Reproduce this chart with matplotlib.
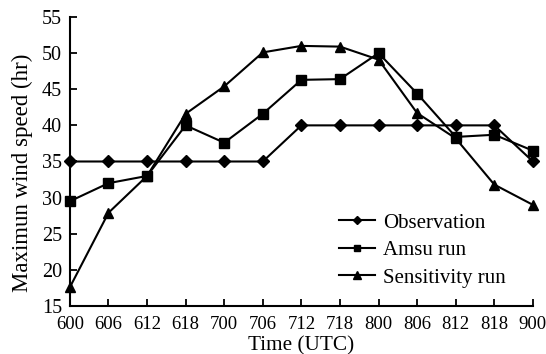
import matplotlib
matplotlib.use("Agg")
import matplotlib.pyplot as plt

times = ["600", "606", "612", "618", "700", "706", "712", "718", "800", "806", "812", "818", "900"]
observation = [35, 35, 35, 35, 35, 35, 40, 40, 40, 40, 40, 40, 35]
amsu_run = [29.5, 32.0, 33.0, 40.0, 37.6, 41.6, 46.3, 46.4, 50.0, 44.4, 38.4, 38.7, 36.5]
sensitivity_run = [17.6, 27.9, 33.0, 41.6, 45.4, 50.1, 51.0, 50.9, 49.1, 41.7, 38.2, 31.8, 29.0]
y_ticks = [15, 20, 25, 30, 35, 40, 45, 50, 55]

plt.rcParams['font.family'] = ['Liberation Serif', 'DejaVu Serif']

fig = plt.figure(figsize=(5.46, 3.54), dpi=100)
ax = fig.add_axes([0.128, 0.1356, 0.848, 0.8164])

x = list(range(len(times)))
lw = 1.5
ax.plot(x, observation, color='black', lw=lw, marker='D', ms=5.8, label='Observation', clip_on=False, zorder=3)
ax.plot(x, amsu_run, color='black', lw=lw, marker='s', ms=6.5, label='Amsu run', clip_on=False, zorder=3)
ax.plot(x, sensitivity_run, color='black', lw=lw, marker='^', ms=7, label='Sensitivity run', clip_on=False, zorder=3)

ax.set_xlim(0, len(times) - 1)
ax.set_ylim(15, 55)
ax.set_xticks(x)
ax.set_xticklabels(times)
ax.set_yticks(y_ticks)
ax.spines['top'].set_visible(False)
ax.spines['right'].set_visible(False)
for s in ['left', 'bottom']:
    ax.spines[s].set_linewidth(1.5)
ax.tick_params(direction='in', length=5, width=1.3)
ax.tick_params(axis='x', labelsize=13.5, pad=7.5)
ax.tick_params(axis='y', labelsize=14.5, pad=5.5)
ax.set_xlabel('Time (UTC)', fontsize=15.3, labelpad=2)
ax.set_ylabel('Maximun wind speed (hr)', fontsize=16.5)
ax.yaxis.set_label_coords(-0.08, 0.46)

leg = ax.legend(loc='upper left', bbox_to_anchor=(339 / 546, 1 - 213 / 354),
                bbox_transform=fig.transFigure, frameon=False, fontsize=15,
                handlelength=1.73, handletextpad=0.38, labelspacing=0.38,
                borderaxespad=0, borderpad=0, markerscale=0.75)

fig.savefig('out.png', dpi=100)
